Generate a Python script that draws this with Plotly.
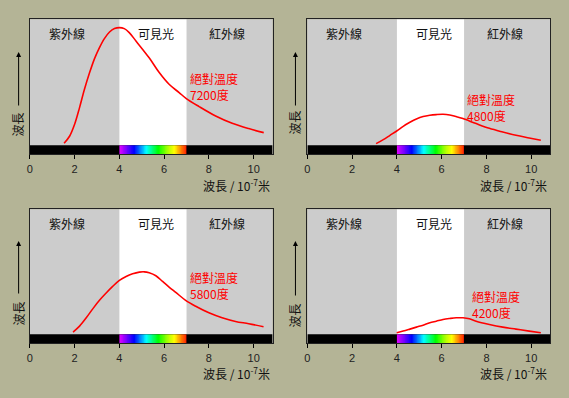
import plotly.graph_objects as go

W, H = 569, 398

# ---- data (x in 10^-7 m, intensity in arbitrary units) ----
x_7200 = [1.53, 1.78, 2.0, 2.22, 2.44, 2.67, 2.89, 3.11, 3.33, 3.56, 3.78, 4.0, 4.22, 4.44, 4.74,
          5.33, 5.78, 6.22, 6.67, 6.99, 7.56, 8.30, 9.04, 9.78, 10.45]
y_7200 = [2, 9.3, 21, 37.7, 56, 72.7, 86.7, 97.7, 106.7, 113.3, 116.7, 117.7, 116.7, 112.7, 104.3,
          87.5, 72.7, 61, 52.7, 46.7, 38.7, 29.3, 22, 16.7, 12.7]

x_5800 = [1.93, 2.22, 2.52, 2.81, 3.11, 3.41, 3.70, 4.0, 4.30, 4.59, 4.89, 5.11, 5.33, 5.63, 5.93,
          6.22, 6.52, 6.96, 7.41, 8.0, 8.59, 9.19, 9.78, 10.44]
y_5800 = [2.3, 8.3, 16.7, 25.7, 34.3, 41.7, 48.3, 54.3, 58.3, 61, 62.7, 63, 62, 59, 53.3,
          47.7, 42.3, 34.3, 28.3, 21.7, 16.7, 13, 10.7, 7.7]

x_4800 = [3.07, 3.39, 3.69, 3.99, 4.28, 4.58, 4.87, 5.17, 5.47, 5.76, 6.06, 6.36, 6.65, 6.95,
          7.54, 8.13, 8.73, 9.32, 9.91, 10.43]
y_4800 = [1.7, 5.7, 10, 14.3, 19, 23, 26.3, 28.7, 30, 30.7, 31, 30.3, 28.7, 26.7,
          21.7, 17, 13.3, 10, 7.3, 5]

x_4200 = [3.99, 4.28, 4.58, 4.87, 5.17, 5.47, 5.76, 6.06, 6.36, 6.65, 6.95, 7.24, 7.54, 8.13,
          8.73, 9.32, 9.91, 10.43]
y_4200 = [1.7, 3.3, 5.3, 7.3, 9.3, 11.7, 13.3, 15, 16, 16.7, 16.7, 15.7, 13.3, 10,
          7.3, 5.3, 3.3, 1.7]

temps = ["7200", "4800", "5800", "4200"]
curves_x = [x_7200, x_4800, x_5800, x_4200]
curves_y = [y_7200, y_4800, y_5800, y_4200]
label_y = [59, 37.5, 49, 30]
label_x = [7.08, 7.05, 7.08, 7.27]

region_names = ["紫外線", "可見光", "紅外線"]
region_x = [1.64, 5.64, 8.83]
tick_vals = [0, 2, 4, 6, 8, 10]
tick_text = ["0", "2", "4", "6", "8", "10"]
uv_end, vis_end, x_max = 4.0, 7.0, 10.844
y_min, y_max = -9, 126

spectrum_stops = [[0.0, "#e600ff"], [0.08, "#9000ff"], [0.22, "#0000ff"], [0.40, "#00ffff"],
                  [0.58, "#00ff00"], [0.72, "#aaff00"], [0.82, "#ffff00"], [0.92, "#ff8000"],
                  [1.0, "#ff2000"]]

# ---- layout geometry (pixels) ----
panels = [  # left, right, top, bottom (plot area incl. bar)
    (27, 271, 19.3, 154.3),
    (306, 550, 19.3, 154.3),
    (27, 271, 209.3, 343.3),
    (306, 550, 209.3, 343.3),
]
arrow_px = [(15.7, 52, 107, 125), (294, 52, 107, 122), (15.7, 241, 295, 314), (294, 241, 297, 315)]
xtitle_y = [185, 185, 373.3, 373.3]

cjk = "Noto Sans CJK TC"
fig = go.Figure()
layout = dict(width=W, height=H, margin=dict(l=0, r=0, t=0, b=0, pad=0), autosize=False,
              paper_bgcolor="#b4b496", plot_bgcolor="#cccccc", showlegend=False)
shapes, annotations = [], []

n_seg = 150
edges = [uv_end + (vis_end - uv_end) * i / n_seg for i in range(n_seg + 1)]
zvals = [[(i + 0.5) / n_seg for i in range(n_seg)]]

for i, (l, r, t, b) in enumerate(panels):
    sfx = "" if i == 0 else str(i + 1)
    xa, ya = "x" + sfx, "y" + sfx
    layout["xaxis" + sfx] = dict(domain=[l / W, r / W], range=[0, x_max], anchor=ya,
                                 tickvals=tick_vals, ticktext=tick_text, ticks="outside",
                                 ticklen=4, tickcolor="black", showgrid=False, zeroline=False,
                                 showline=True, linecolor="#222", linewidth=1, mirror=True,
                                 tickfont=dict(family="Liberation Sans", size=11, color="#222"),
                                 fixedrange=True)
    layout["yaxis" + sfx] = dict(domain=[1 - b / H, 1 - t / H], range=[y_min, y_max], anchor=xa,
                                 showticklabels=False, ticks="", showgrid=False, zeroline=False,
                                 showline=True, linecolor="#222", linewidth=1, mirror=True,
                                 fixedrange=True)
    shapes.append(dict(type="rect", xref=xa, yref=ya, x0=uv_end, x1=vis_end, y0=0, y1=y_max,
                       fillcolor="white", line=dict(width=0), layer="below"))
    shapes.append(dict(type="rect", xref=xa, yref=ya, x0=0, x1=x_max, y0=y_min, y1=0,
                       fillcolor="black", line=dict(width=0), layer="below"))
    fig.add_trace(go.Heatmap(x=edges, y=[y_min, 0], z=zvals, colorscale=spectrum_stops,
                             zmin=0, zmax=1, showscale=False, hoverinfo="skip",
                             xaxis=xa, yaxis=ya))
    fig.add_trace(go.Scatter(x=curves_x[i], y=curves_y[i], mode="lines",
                             line=dict(color="#ff0000", width=1.6, shape="spline"),
                             xaxis=xa, yaxis=ya, hoverinfo="skip"))
    for name, rx in zip(region_names, region_x):
        annotations.append(dict(xref=xa, yref=ya, x=rx, y=112, text=name, showarrow=False,
                                xanchor="center", yanchor="middle",
                                font=dict(family=cjk, size=12, color="#111")))
    annotations.append(dict(xref=xa, yref=ya, x=label_x[i], y=label_y[i],
                            text="絕對溫度<br>" + temps[i] + "度", showarrow=False,
                            xanchor="left", yanchor="middle", align="left",
                            font=dict(family=cjk, size=12, color="#ff0000")))
    annotations.append(dict(xref="paper", yref="paper", x=(r - 1) / W, y=1 - xtitle_y[i] / H,
                            text="波長 / 10<sup>-7</sup>米", showarrow=False,
                            xanchor="right", yanchor="middle",
                            font=dict(family=cjk, size=12, color="#111")))
    ax_, tip, tail, lab = arrow_px[i]
    annotations.append(dict(xref="paper", yref="paper", x=ax_ / W, y=1 - tip / H, text="",
                            showarrow=True, ax=0, ay=tail - tip, arrowhead=2, arrowsize=1,
                            arrowwidth=1, arrowcolor="black"))
    annotations.append(dict(xref="paper", yref="paper", x=(ax_ - 1) / W, y=1 - lab / H,
                            text="波長", textangle=-90, showarrow=False,
                            xanchor="center", yanchor="middle",
                            font=dict(family=cjk, size=12, color="#111")))

layout["shapes"] = shapes
layout["annotations"] = annotations
fig.update_layout(**layout)
fig.write_html("out.html", config={"displayModeBar": False},
               post_script="document.body.style.margin='0';document.body.style.padding='0';"
                           "document.body.style.background='#b4b496';")
